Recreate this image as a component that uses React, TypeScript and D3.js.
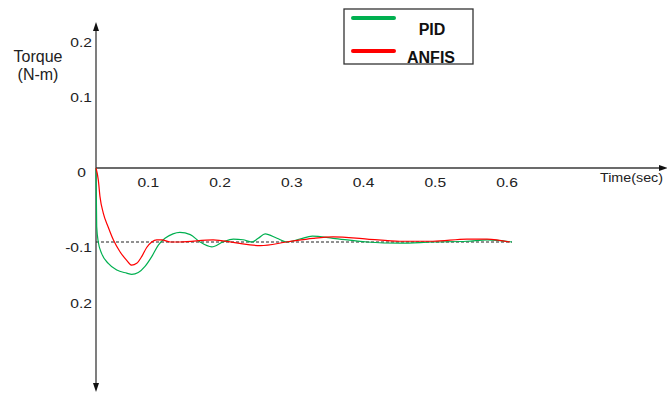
import { useEffect, useRef } from "react";
import * as d3 from "d3";

// time (s) / torque (N-m)
const PID_T = [0, 0.001, 0.0033, 0.0082, 0.0177, 0.0299, 0.0443, 0.0515, 0.061, 0.0707, 0.0804, 0.0899, 0.0995, 0.111, 0.121, 0.136, 0.15, 0.167, 0.183, 0.198, 0.212, 0.225, 0.234, 0.244, 0.261, 0.275, 0.294, 0.312, 0.342, 0.391, 0.438, 0.486, 0.535, 0.564, 0.6];
const PID_V = [0, -0.079, -0.1, -0.119, -0.135, -0.146, -0.151, -0.153, -0.15, -0.14, -0.124, -0.105, -0.095, -0.089, -0.087, -0.09, -0.1, -0.108, -0.1, -0.096, -0.097, -0.1, -0.095, -0.089, -0.095, -0.1, -0.096, -0.092, -0.095, -0.1, -0.102, -0.1, -0.099, -0.097, -0.1];

const ANFIS_T = [0, 0.0033, 0.0058, 0.0105, 0.0177, 0.025, 0.0346, 0.0443, 0.0515, 0.0587, 0.0659, 0.0731, 0.0804, 0.0876, 0.0948, 0.107, 0.121, 0.169, 0.2, 0.237, 0.275, 0.313, 0.342, 0.391, 0.438, 0.486, 0.535, 0.564, 0.597];
const ANFIS_V = [0, -0.016, -0.039, -0.061, -0.08, -0.097, -0.116, -0.13, -0.138, -0.135, -0.124, -0.109, -0.1, -0.097, -0.097, -0.1, -0.1, -0.097, -0.101, -0.106, -0.1, -0.095, -0.093, -0.096, -0.099, -0.099, -0.096, -0.096, -0.1];

const Y_TICKS = [0.2, 0.1, 0, -0.1, -0.2];
const Y_LABELS = ["0.2", "0.1", "0", "-0.1", "0.2"];
const X_TICKS = [0.1, 0.2, 0.3, 0.4, 0.5, 0.6];
const REFERENCE = -0.1;

const SERIES = [
  { name: "PID", color: "#00b050", t: PID_T, v: PID_V },
  { name: "ANFIS", color: "#ff0000", t: ANFIS_T, v: ANFIS_V },
];

const FONT = "'Liberation Sans', Arial, sans-serif";

export default function App() {
  const svgRef = useRef<SVGSVGElement>(null);

  useEffect(() => {
    const width = 667;
    const height = 394;
    const svg = d3.select(svgRef.current);
    svg.selectAll("*").remove();
    svg.attr("width", width).attr("height", height);

    const x = d3.scaleLinear().domain([0, 0.6]).range([96, 512]);
    // the hand-placed tick labels sit on their own spacing
    const xLabel = d3.scaleLinear().domain([0, 0.6]).range([76.5, 507]);
    const y = d3
      .scaleLinear()
      .domain([-0.2, -0.1, 0, 0.1, 0.2])
      .range([303, 242, 168, 98, 42]);

    const axisColor = "#3a3a3a";

    // the tick numbers in the source are drawn wide
    const wideText = (
      tx: number,
      ty: number,
      str: string,
      anchor: string,
      size = 12,
      stretch = 1.3,
    ) =>
      svg
        .append("text")
        .attr("transform", `translate(${tx},${ty}) scale(${stretch},1)`)
        .attr("text-anchor", anchor)
        .attr("font-family", FONT)
        .attr("font-size", size)
        .attr("fill", "#222")
        .text(str);

    // axes
    svg
      .append("line")
      .attr("x1", x(0))
      .attr("x2", x(0))
      .attr("y1", 28)
      .attr("y2", 386)
      .attr("stroke", axisColor)
      .attr("stroke-width", 1.3);
    svg
      .append("line")
      .attr("x1", x(0))
      .attr("x2", 662)
      .attr("y1", y(0))
      .attr("y2", y(0))
      .attr("stroke", axisColor)
      .attr("stroke-width", 1.3);

    const arrow = (pts: [number, number][]) =>
      svg
        .append("path")
        .attr("d", d3.line()(pts) + "Z")
        .attr("fill", "#111");
    arrow([[x(0), 22], [x(0) - 3, 31], [x(0) + 3, 31]]);
    arrow([[x(0), 392], [x(0) - 3, 383], [x(0) + 3, 383]]);
    arrow([[668, y(0)], [659, y(0) - 3], [659, y(0) + 3]]);

    // y tick labels
    const yOffsets = [5, 3.5, 8.5, 9.5, 4.5];
    Y_TICKS.forEach((d, i) => {
      wideText(d === 0 ? 86 : 92, y(d) + yOffsets[i], Y_LABELS[i], "end");
    });

    // x tick labels
    X_TICKS.forEach((d) => {
      wideText(xLabel(d), 186.5, d.toFixed(1), "middle");
    });

    wideText(600, 182, "Time(sec)", "start", 13, 1.1);

    svg
      .append("text")
      .attr("x", 38)
      .attr("y", 61.5)
      .attr("text-anchor", "middle")
      .attr("font-family", FONT)
      .attr("font-size", 16)
      .attr("fill", "#222")
      .text("Torque");
    svg
      .append("text")
      .attr("x", 38)
      .attr("y", 79.5)
      .attr("text-anchor", "middle")
      .attr("font-family", FONT)
      .attr("font-size", 16)
      .attr("fill", "#222")
      .text("(N-m)");

    // reference line
    svg
      .append("line")
      .attr("x1", x(0))
      .attr("x2", x(0.6))
      .attr("y1", y(REFERENCE))
      .attr("y2", y(REFERENCE))
      .attr("stroke", "#222")
      .attr("stroke-width", 1)
      .attr("stroke-dasharray", "3,2");

    const line = d3
      .line<[number, number]>()
      .x((d) => x(d[0]))
      .y((d) => y(d[1]))
      .curve(d3.curveMonotoneX);

    SERIES.forEach((s) => {
      svg
        .append("path")
        .attr("d", line(s.t.map((t, i) => [t, s.v[i]] as [number, number])))
        .attr("fill", "none")
        .attr("stroke", s.color)
        .attr("stroke-width", 1.2);
    });

    // legend
    const legend = svg.append("g");
    legend
      .append("rect")
      .attr("x", 344)
      .attr("y", 9)
      .attr("width", 129)
      .attr("height", 55)
      .attr("fill", "#fff")
      .attr("stroke", "#333")
      .attr("stroke-width", 1.3);
    SERIES.forEach((s, i) => {
      const ly = 18 + i * 33;
      legend
        .append("line")
        .attr("x1", 353)
        .attr("x2", 394)
        .attr("y1", ly)
        .attr("y2", ly)
        .attr("stroke", s.color)
        .attr("stroke-width", 4)
        .attr("stroke-linecap", "round");
      legend
        .append("text")
        .attr("x", i === 0 ? 432 : 431)
        .attr("y", i === 0 ? 35 : 63)
        .attr("text-anchor", "middle")
        .attr("font-family", FONT)
        .attr("font-size", 16)
        .attr("font-weight", "bold")
        .attr("fill", "#111")
        .text(s.name);
    });
  }, []);

  return (
    <svg
      ref={svgRef}
      style={{ position: "absolute", left: 0, top: 0, display: "block" }}
    />
  );
}
